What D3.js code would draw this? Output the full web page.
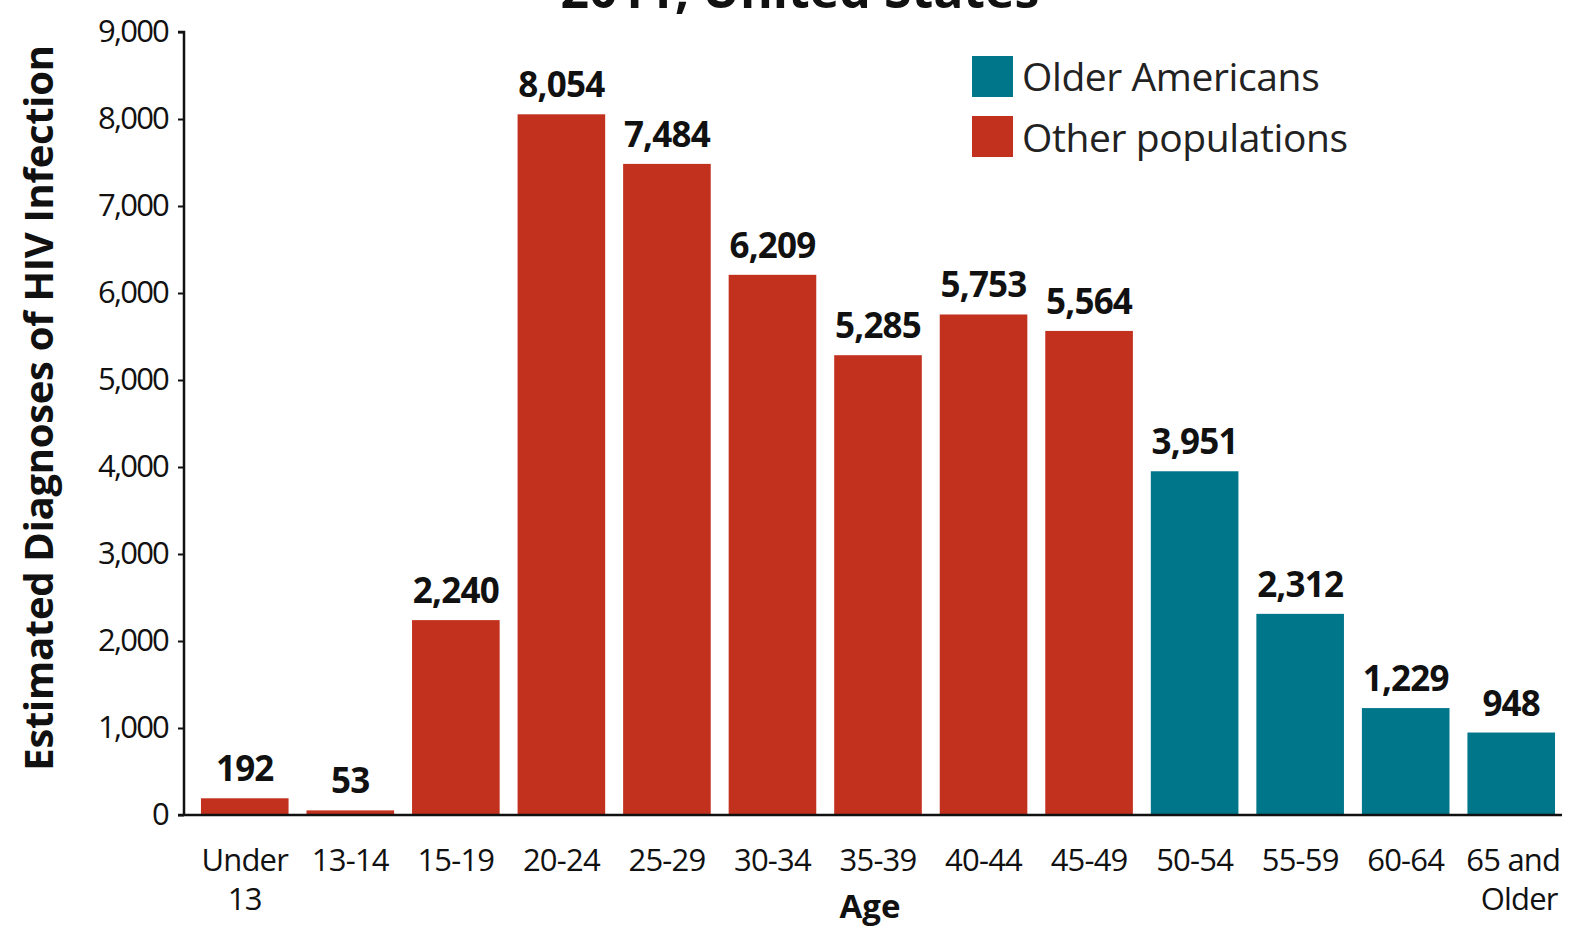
<!DOCTYPE html>
<html><head><meta charset="utf-8">
<script src="https://cdn.jsdelivr.net/npm/d3@7"></script>
<style>body{margin:0;background:#fff;} svg{display:block;}</style>
</head><body><svg id="c" width="1574" height="930"></svg>
<script>
const categories = ["Under 13","13-14","15-19","20-24","25-29","30-34","35-39","40-44","45-49","50-54","55-59","60-64","65 and Older"];
const values = [192,53,2240,8054,7484,6209,5285,5753,5564,3951,2312,1229,948];
const groups = ["Other populations","Other populations","Other populations","Other populations","Other populations","Other populations","Other populations","Other populations","Other populations","Older Americans","Older Americans","Older Americans","Older Americans"];
const legendLabels = ["Older Americans","Other populations"];
const legendColors = ["#00768a","#c2301e"];
const yTicks = [0,1000,2000,3000,4000,5000,6000,7000,8000,9000];
const titleText = "2011, United States";
const yTitle = "Estimated Diagnoses of HIV Infection";
const xTitle = "Age";

const font = "'Open Sans', 'Noto Sans', sans-serif";
const svg = d3.select("#c");
const x = d3.scaleBand().domain(categories).range([192, 1564]).paddingInner(0.17).paddingOuter(0.085);
const y = d3.scaleLinear().domain([0, 9000]).range([815, 32]);
const color = d3.scaleOrdinal().domain(legendLabels).range(legendColors);
const fmt = d3.format(",");

// title (cut off at top, as in the reference)
svg.append("text").attr("x", 800).attr("y", 8).attr("text-anchor", "middle")
  .attr("font-family", font).attr("font-weight", "bold").attr("font-size", 50).attr("fill", "#111")
  .text(titleText);

// bars
svg.selectAll("rect.bar").data(values).join("rect").attr("class","bar")
  .attr("x", (d,i) => x(categories[i])).attr("width", x.bandwidth())
  .attr("y", d => y(d)).attr("height", d => y(0) - y(d))
  .attr("fill", (d,i) => color(groups[i]));

// value labels
svg.selectAll("text.val").data(values).join("text").attr("class","val")
  .attr("x", (d,i) => x(categories[i]) + x.bandwidth()/2)
  .attr("y", d => y(d) - 17).attr("text-anchor","middle")
  .attr("font-family", font).attr("font-weight","bold").attr("font-size", 35)
  .attr("letter-spacing", -0.8).attr("fill","#111").text(d => fmt(d));

// y axis
const ya = svg.append("g").attr("transform","translate(184,0)")
  .call(d3.axisLeft(y).tickValues(yTicks).tickFormat(fmt).tickSize(6).tickPadding(10));
ya.select(".domain").attr("stroke","#111").attr("stroke-width",2.5).attr("d","M-6,32H0V815");
ya.selectAll(".tick line").attr("stroke","#111").attr("stroke-width",2);
ya.selectAll(".tick text").attr("font-family", font).attr("font-size", 31).attr("fill","#111").attr("letter-spacing",-1.8);

// x axis
const xa = svg.append("g").attr("transform","translate(0,815)")
  .call(d3.axisBottom(x).tickSize(0).tickPadding(0));
xa.select(".domain").attr("stroke","#111").attr("stroke-width",2.5).attr("d","M178,0H1562");
xa.selectAll(".tick text").remove();
xa.selectAll(".tick").each(function(d){
  const g = d3.select(this);
  let lines;
  if (d === "Under 13") lines = ["Under","13"];
  else if (d === "65 and Older") lines = ["65 and","Older"];
  else lines = [d];
  const t = g.append("text").attr("text-anchor","middle").attr("font-family", font)
    .attr("font-size", 31).attr("fill","#111").attr("letter-spacing",-0.8);
  lines.forEach((l,k) => t.append("tspan").attr("x", d==="65 and Older" ? (k ? 8 : 2) : 0).attr("y", 56 + k*39).text(l));
});

// axis titles
svg.append("text").attr("x", 870).attr("y", 918).attr("text-anchor","middle")
  .attr("font-family", font).attr("font-weight","bold").attr("font-size", 33).attr("fill","#111").text(xTitle);
svg.append("text").attr("transform","translate(53,408) rotate(-90)").attr("text-anchor","middle")
  .attr("font-family", font).attr("font-weight","bold").attr("font-size", 40).attr("letter-spacing",-0.3).attr("fill","#111").text(yTitle);

// legend
const lg = svg.append("g");
legendLabels.forEach((l,i) => {
  lg.append("rect").attr("x", 972).attr("y", 56 + i*60).attr("width", 41).attr("height", 41).attr("fill", legendColors[i]);
  lg.append("text").attr("x", 1022).attr("y", 91 + i*61).attr("font-family", font).attr("font-size", 39)
    .attr("fill","#222").attr("letter-spacing",-0.4).text(l);
});
</script></body></html>
